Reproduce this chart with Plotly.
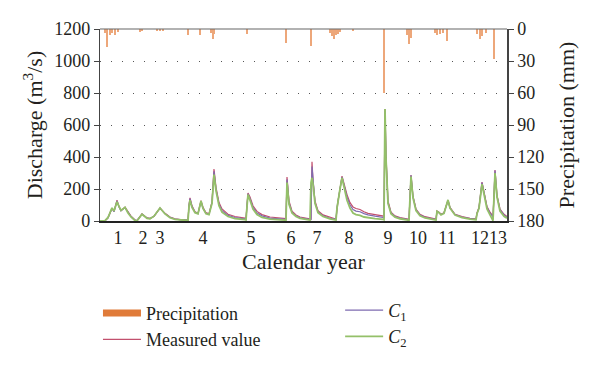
import plotly.graph_objects as go

# ---- data (time index along the axis) ----
t = [0, 5, 8, 10, 12, 14, 17, 19, 21, 25, 28, 31, 35,
     37, 42, 47, 50,
     54, 60, 65, 70, 75, 80, 88,
     89, 90, 92, 95, 98, 101, 103, 106, 109, 112, 114, 116, 119, 122, 128, 135, 145,
     146, 147, 148, 150, 153, 157, 162, 170, 180, 185,
     186, 187, 189, 192, 196, 200, 205, 210,
     211, 212, 213, 215, 218, 223, 230, 235,
     236, 237, 238, 240, 242, 244, 247, 250, 253, 256, 260, 264, 268, 275, 283, 284,
     285, 286, 288, 291, 295, 300, 308,
     309, 311, 313, 316, 320, 325, 332, 336,
     337, 339, 341, 344, 348, 350, 355, 362, 370, 376,
     377, 379, 382, 384, 387, 390, 392, 393,
     394, 395, 397, 400, 404, 407]

measured = [0, 2, 20, 50, 80, 60, 130, 90, 65, 87, 55, 30, 6,
            2, 44, 19, 16,
            30, 80, 48, 25, 14, 9, 6,
            100, 145, 95, 58, 48, 127, 85, 52, 45, 120, 325, 210, 115, 75, 42, 28, 18,
            15, 100, 175, 150, 95, 60, 40, 25, 18, 15,
            15, 275, 125, 62, 38, 25, 17, 12,
            12, 370, 255, 125, 65, 38, 22, 14,
            14, 90, 125, 200, 280, 235, 165, 115, 88, 78, 72, 58, 48, 40, 32, 30,
            700, 410, 125, 55, 32, 22, 12,
            12, 287, 155, 75, 42, 27, 17, 12,
            62, 55, 42, 52, 130, 85, 42, 27, 17, 13,
            50, 85, 243, 175, 90, 55, 38, 30,
            160, 318, 160, 75, 42, 28]

c1 = [0, 2, 20, 48, 78, 58, 125, 88, 63, 84, 52, 28, 5,
      2, 43, 18, 15,
      30, 80, 46, 23, 12, 8, 5,
      95, 140, 90, 55, 46, 122, 80, 48, 42, 115, 310, 200, 105, 65, 35, 22, 13,
      11, 95, 170, 140, 85, 50, 32, 18, 12, 10,
      10, 260, 115, 55, 32, 20, 13, 9,
      9, 340, 245, 115, 58, 32, 17, 10,
      10, 85, 120, 195, 275, 225, 150, 100, 72, 62, 58, 46, 38, 30, 23, 22,
      690, 400, 115, 50, 28, 18, 9,
      9, 285, 150, 70, 38, 23, 14, 9,
      60, 53, 40, 50, 128, 82, 40, 25, 15, 11,
      48, 82, 240, 170, 85, 50, 33, 25,
      155, 315, 155, 70, 38, 24]

c2 = [0, 2, 22, 52, 82, 62, 120, 92, 66, 85, 50, 25, 3,
      1, 42, 17, 14,
      30, 82, 44, 20, 10, 6, 3,
      90, 130, 85, 52, 45, 125, 78, 45, 40, 110, 290, 190, 95, 55, 28, 15, 8,
      6, 90, 165, 130, 75, 40, 22, 12, 7, 5,
      5, 240, 105, 50, 28, 16, 10, 6,
      240, 270, 230, 110, 52, 28, 13, 6,
      6, 80, 125, 200, 270, 210, 130, 80, 50, 40, 35, 25, 20, 15, 10, 8,
      700, 390, 110, 45, 24, 14, 6,
      6, 278, 145, 65, 33, 19, 10, 6,
      60, 52, 38, 48, 132, 80, 37, 21, 12, 8,
      45, 80, 230, 160, 75, 38, 18, 2,
      150, 300, 150, 62, 30, 18]

rain_t = [5, 7, 10, 12, 15, 18, 40, 42, 57, 60, 63, 88, 100, 111, 113, 114, 147,
          186, 211, 230, 232, 234, 236, 238, 240, 253, 284, 307, 309, 311,
          335, 337, 340, 343, 347, 377, 380, 382, 386, 394]
rain_mm = [4, 17, 6, 4, 6, 3, 3, 2, 2, 2, 2, 6, 6, 4, 9, 5, 5,
           13, 16, 4, 7, 9, 6, 5, 3, 2, 60, 6, 14, 8,
           4, 6, 5, 4, 11, 5, 9, 7, 4, 28]

year_pos = [18, 43, 60, 103, 151, 191, 217, 249, 288, 318, 347, 380, 398]
year_labels = ["1", "2", "3", "4", "5", "6", "7", "8", "9", "10", "11", "12", "13"]

FONT = "Liberation Serif"
TXT = "#231F20"
ORANGE = "#E07B39"
RAIN = "#EDA77A"
RED = "#C2506E"
PURPLE = "#7E6BB0"
GREEN = "#94C069"

fig = go.Figure()

fig.add_trace(go.Bar(x=rain_t, y=rain_mm, yaxis="y2", width=0.5,
                     marker=dict(color=RAIN, line=dict(width=0)),
                     showlegend=False, name="Precipitation"))

fig.add_trace(go.Scatter(x=[None], y=[None], mode="lines", name="Precipitation",
                         line=dict(color=ORANGE, width=7), legend="legend"))
fig.add_trace(go.Scatter(x=t, y=measured, mode="lines", name="Measured value",
                         line=dict(color=RED, width=1.2), legend="legend"))
fig.add_trace(go.Scatter(x=t, y=c1, mode="lines", name="<i>C</i><sub>1</sub>",
                         line=dict(color=PURPLE, width=1.2), legend="legend2"))
fig.add_trace(go.Scatter(x=t, y=c2, mode="lines", name="<i>C</i><sub>2</sub>",
                         line=dict(color=GREEN, width=1.8), legend="legend2"))

# page body adds an 8px offset, so the figure is 592x357
fig.update_layout(
    width=592, height=357,
    margin=dict(l=92, r=93, t=21, b=144, autoexpand=False),
    paper_bgcolor="white", plot_bgcolor="white",
    font=dict(family=FONT, size=18, color=TXT),
    bargap=0,
    xaxis=dict(range=[0, 407], tickvals=year_pos, ticktext=year_labels,
               tickangle=0, ticks="", showgrid=False, zeroline=False,
               showline=True, linecolor="#222", linewidth=1.5, mirror=False,
               title=dict(text="Calendar year", standoff=6)),
    yaxis=dict(range=[0, 1200], tickvals=[0, 200, 400, 600, 800, 1000, 1200],
               ticks="outside", ticklen=5, tickcolor="#444",
               showline=True, linecolor="#444", linewidth=1.2,
               showgrid=True, gridcolor="#555", gridwidth=1, griddash="1px,10px",
               zeroline=False,
               title=dict(text="Discharge (m<sup>3</sup>/s)", standoff=5)),
    yaxis2=dict(range=[180, 0], overlaying="y", side="right",
                tickvals=[0, 30, 60, 90, 120, 150, 180],
                ticks="outside", ticklen=5, tickcolor="#444",
                showline=True, linecolor="#444", linewidth=1.5,
                showgrid=False, zeroline=False,
                title=dict(text="Precipitation (mm)", standoff=15)),
    legend=dict(x=-0.005, y=-0.384, xanchor="left", yanchor="top",
                bgcolor="rgba(0,0,0,0)", font=dict(size=18), itemwidth=38,
                tracegroupgap=0),
    legend2=dict(x=0.59, y=-0.369, xanchor="left", yanchor="top",
                 bgcolor="rgba(0,0,0,0)", font=dict(size=18), itemwidth=38,
                 tracegroupgap=0),
    shapes=[dict(type="line", xref="paper", yref="paper", x0=0, x1=1, y0=1, y1=1,
                 line=dict(color="#666", width=1.2))],
)

fig.write_html("out.html")
